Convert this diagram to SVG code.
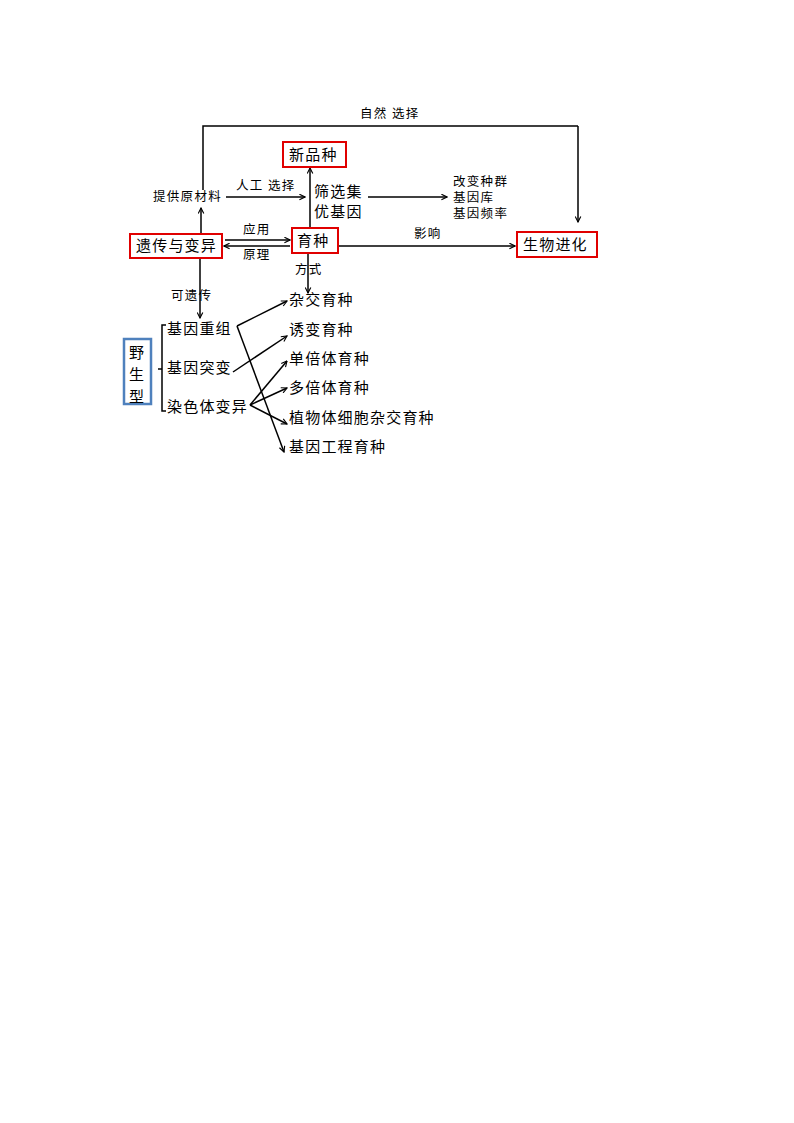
<svg xmlns="http://www.w3.org/2000/svg" width="794" height="1123" viewBox="0 0 794 1123">
<defs>
<marker id="ah" viewBox="0 0 10 10" refX="9" refY="5" markerWidth="7" markerHeight="7" orient="auto" markerUnits="userSpaceOnUse">
<path d="M1,1 L9,5 L1,9" fill="none" stroke="#000" stroke-width="1.6"/>
</marker>
<style>
text{font-family:"Liberation Serif","Noto Sans CJK SC",serif;fill:#000}
.s{font-size:12.5px;letter-spacing:1.3px}
.m{font-size:15px;letter-spacing:1.2px}
.red{fill:#fff;stroke:#e00000;stroke-width:2}
.blue{fill:#fff;stroke:#4f81bd;stroke-width:2.5}
.ln{fill:none;stroke:#000;stroke-width:1.5}
.ar{fill:none;stroke:#000;stroke-width:1.5;marker-end:url(#ah)}
</style>
</defs>
<rect width="794" height="1123" fill="#fff"/>
<g id="connectors">
<polyline class="ln" points="203,190 203,126 578,126"/>
<line class="ar" x1="578" y1="126" x2="578" y2="222"/>
<line class="ar" x1="201" y1="233" x2="201" y2="208"/>
<line class="ar" x1="226" y1="197" x2="305" y2="197"/>
<line class="ar" x1="310" y1="228" x2="310" y2="168"/>
<line class="ar" x1="368" y1="197" x2="447" y2="197"/>
<line class="ar" x1="225" y1="240" x2="290" y2="240"/>
<line class="ar" x1="290" y1="246" x2="224" y2="246"/>
<line class="ar" x1="339" y1="246" x2="515" y2="246"/>
<line class="ar" x1="200" y1="258" x2="200" y2="318"/>
<line class="ar" x1="308" y1="253" x2="308" y2="293"/>
<polyline class="ln" points="166,325 162,325 162,411 166,411"/>
<line class="ln" x1="158" y1="369" x2="162" y2="369"/>
<line class="ar" x1="237" y1="326" x2="287" y2="301"/>
<line class="ar" x1="237" y1="326" x2="284" y2="452"/>
<line class="ar" x1="233" y1="372" x2="287" y2="336"/>
<line class="ar" x1="250" y1="405" x2="287" y2="361"/>
<line class="ar" x1="250" y1="405" x2="287" y2="388"/>
<line class="ar" x1="250" y1="405" x2="287" y2="424"/>
</g>
<g id="labels">
<text class="s" x="360" y="118">自然 选择</text>
<text class="s" x="236" y="190">人工 选择</text>
<text class="s" x="243" y="234">应用</text>
<text class="s" x="243" y="259">原理</text>
<text class="s" x="414" y="238">影响</text>
<text class="s" x="171" y="300">可遗传</text>
<text class="s" x="295" y="274">方式</text>
</g>
<g id="n_tigong"><text class="s" x="153" y="201">提供原材料</text></g>
<g id="n_xinpinzhong"><rect class="red" x="283" y="142" width="63" height="25"/><text class="m" x="289" y="160">新品种</text></g>
<g id="n_shaixuan"><text class="m" x="314" y="197">筛选集</text><text class="m" x="314" y="217">优基因</text></g>
<g id="n_gaibian"><text class="s" x="453" y="186">改变种群</text><text class="s" x="453" y="202">基因库</text><text class="s" x="453" y="218">基因频率</text></g>
<g id="n_yichuan"><rect class="red" x="130" y="234" width="92" height="24"/><text class="m" x="136" y="251">遗传与变异</text></g>
<g id="n_yuzhong"><rect class="red" x="292" y="228" width="46" height="25"/><text class="m" x="297" y="246">育种</text></g>
<g id="n_jinhua"><rect class="red" x="517" y="232" width="80" height="25"/><text class="m" x="523" y="250">生物进化</text></g>
<g id="n_yesheng"><rect class="blue" x="124" y="339" width="27" height="65"/><text class="m" x="129" y="358">野</text><text class="m" x="129" y="380">生</text><text class="m" x="129" y="402">型</text></g>
<g id="n_chongzu"><text class="m" x="167" y="334">基因重组</text></g>
<g id="n_tubian"><text class="m" x="167" y="373">基因突变</text></g>
<g id="n_ranse"><text class="m" x="167" y="412">染色体变异</text></g>
<g id="n_zajiao"><text class="m" x="289" y="305">杂交育种</text></g>
<g id="n_youbian"><text class="m" x="289" y="335">诱变育种</text></g>
<g id="n_danbei"><text class="m" x="289" y="364">单倍体育种</text></g>
<g id="n_duobei"><text class="m" x="289" y="393">多倍体育种</text></g>
<g id="n_zhiwu"><text class="m" x="289" y="423">植物体细胞杂交育种</text></g>
<g id="n_jiyin"><text class="m" x="289" y="452">基因工程育种</text></g>
</svg>
